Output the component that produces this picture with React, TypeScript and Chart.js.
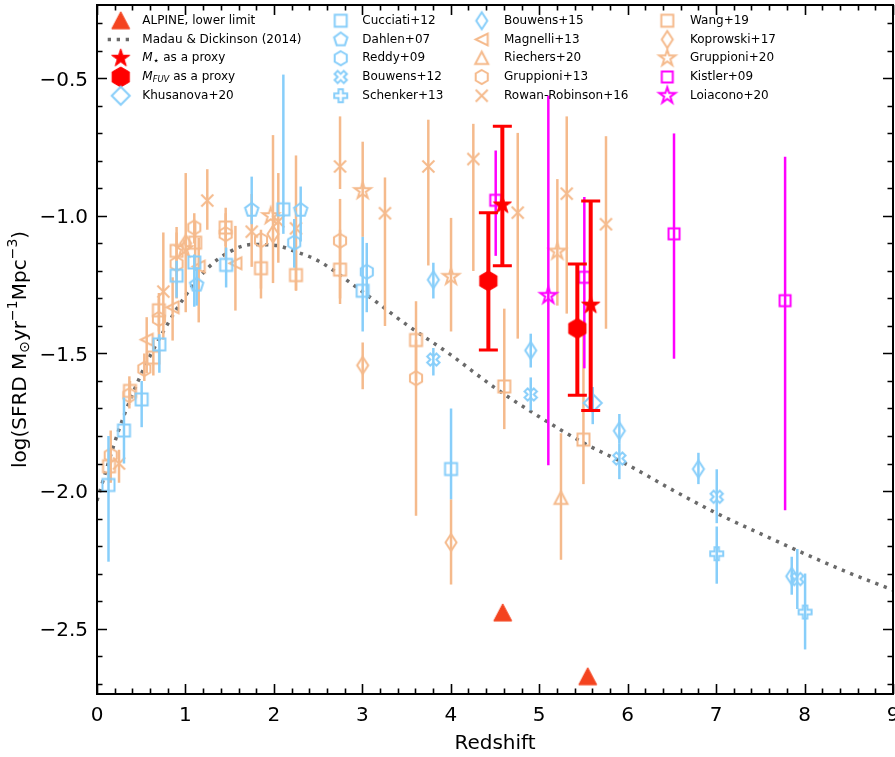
import React, { useEffect, useRef } from 'react';
import { Chart, registerables } from 'chart.js';

Chart.register(...registerables);

type Row = [number, number, number | null, number | null];

// ---------- DATA: [redshift, log SFRD, top of error bar, bottom of error bar] ----------
const alpineLowerLimit: Row[] = [[4.587, -2.443, null, null], [5.548, -2.675, null, null]];
const madauZ = [0, 0.25, 0.5, 0.75, 1, 1.25, 1.5, 1.75, 2, 2.25, 2.5, 3, 3.5, 4, 4.5, 5, 5.5, 6, 6.5, 7, 7.5, 8, 8.5, 9];
const madauLogSFRD = [-2.035, -1.775, -1.575, -1.42, -1.29, -1.19, -1.13, -1.104, -1.106, -1.13, -1.163, -1.275, -1.395, -1.505, -1.625, -1.73, -1.825, -1.905, -1.995, -2.08, -2.155, -2.228, -2.297, -2.36];
const mStarProxy: Row[] = [[4.583, -0.96, -0.674, -1.181], [5.582, -1.324, -0.946, -1.707]];
const mFuvProxy: Row[] = [[4.425, -1.236, -0.988, -1.487], [5.431, -1.409, -1.175, -1.652]];
const khusanova20: Row[] = [[5.605, -1.68, -1.622, -1.757]];
const cucciati12: Row[] = [
  [0.13, -1.978, -1.8, -2.257], [0.305, -1.78, -1.66, -1.9], [0.505, -1.667, -1.6, -1.768],
  [0.705, -1.467, -1.43, -1.57], [0.9, -1.217, -1.163, -1.297], [1.1, -1.169, -1.14, -1.33],
  [1.46, -1.178, -1.115, -1.26], [2.107, -0.976, -0.486, -1.065], [3.004, -1.272, -1.076, -1.42],
  [4.003, -1.92, -1.7, -2.03],
];
const dahlen07: Row[] = [[1.127, -1.25, -1.187, -1.326], [1.749, -0.978, -0.857, -1.03], [2.303, -0.978, -0.893, -1.093]];
const reddy09: Row[] = [[2.23, -1.097, -1.011, -1.188], [3.05, -1.203, -1.098, -1.35]];
const bouwens12: Row[] = [
  [3.803, -1.522, -1.48, -1.58], [4.904, -1.649, -1.587, -1.707], [5.906, -1.882, -1.826, -1.957],
  [7.007, -2.021, -1.921, -2.117], [7.918, -2.32, -2.211, -2.429],
];
const schenker13: Row[] = [[7.007, -2.228, -2.129, -2.337], [8.006, -2.44, -2.3, -2.576]];
const bouwens15: Row[] = [
  [3.803, -1.232, -1.17, -1.3], [4.904, -1.489, -1.428, -1.551], [5.906, -1.781, -1.72, -1.826],
  [6.8, -1.92, -1.861, -1.975], [7.855, -2.31, -2.239, -2.377],
];
const magnelli13: Row[] = [[0.562, -1.45, -1.368, -1.572], [0.855, -1.332, -1.223, -1.453], [1.15, -1.184, -1.079, -1.387], [1.565, -1.172, -1.036, -1.344]];
const riechers20: Row[] = [[5.246, -2.026, -1.79, -2.25]];
const gruppioni13: Row[] = [
  [0.155, -1.87, -1.78, -1.97], [0.366, -1.652, -1.583, -1.7], [0.535, -1.556, -1.5, -1.6],
  [0.7, -1.374, -1.3, -1.45], [0.9, -1.174, -1.06, -1.3], [1.1, -1.042, -0.99, -1.1],
  [1.455, -1.066, -0.99, -1.16], [1.854, -1.088, -1.05, -1.3], [2.748, -1.09, -0.938, -1.32],
  [3.607, -1.59, -1.45, -2.09],
];
const rowanRobinson16: Row[] = [
  [0.249, -1.9, -1.85, -1.97], [0.75, -1.275, -1.06, -1.45], [1.247, -0.944, -0.83, -1.05],
  [1.749, -1.057, -0.92, -1.185], [2.05, -1.02, -0.844, -1.17], [2.25, -1.045, -0.78, -1.27],
  [2.748, -0.82, -0.638, -0.902], [3.256, -0.99, -0.86, -1.4], [3.746, -0.82, -0.65, -1.18],
  [4.255, -0.793, -0.665, -1.2], [4.757, -0.988, -0.698, -1.446], [5.311, -0.919, -0.638, -1.355],
  [5.755, -1.03, -0.71, -1.41],
];
const wang19: Row[] = [
  [0.136, -1.91, -1.85, -1.97], [0.373, -1.636, -1.6, -1.68], [0.637, -1.515, -1.45, -1.58],
  [0.7, -1.343, -1.28, -1.42], [0.9, -1.127, -1.04, -1.22], [1.11, -1.097, -1.02, -1.2],
  [1.455, -1.042, -0.97, -1.11], [1.854, -1.19, -1.09, -1.264], [2.25, -1.215, -1.127, -1.272],
  [2.748, -1.195, -1.05, -1.3], [3.607, -1.451, -1.31, -1.6], [4.605, -1.62, -1.337, -1.775],
  [5.5, -1.813, -1.417, -1.975],
];
const koprowski17: Row[] = [[1.003, -1.1, -0.844, -1.35], [1.99, -1.066, -0.706, -1.244], [3.004, -1.543, -1.46, -1.63], [4.003, -2.187, -2.03, -2.34]];
const gruppioni20: Row[] = [[0.985, -1.12, null, null], [1.964, -1.0, null, null], [3.004, -0.909, -0.73, -1.076], [4.003, -1.221, -1.007, -1.42], [5.205, -1.129, -0.866, -1.326]];
const kistler09: Row[] = [[4.508, -0.943, -0.762, -1.145], [5.51, -1.223, -0.931, -1.554], [6.524, -1.065, -0.7, -1.519], [7.78, -1.308, -0.785, -2.07]];
const loiacono20: Row[] = [[5.103, -1.29, -0.562, -1.906]];

const xTickValues = [0, 1, 2, 3, 4, 5, 6, 7, 8, 9];
const yTickValues = [-2.5, -2.0, -1.5, -1.0, -0.5];
const X_MIN = 0, X_MAX = 9, Y_MIN = -2.738, Y_MAX = -0.233;

// ---------- STYLES ----------
const BLUE = '#87CEFA';
const ORANGE = '#F5BA8C';
const MAGENTA = '#FF00FF';
const RED = '#FF0000';
const ALPINE_RED = '#F4431F';
const FONT = "'DejaVu Sans', sans-serif";

interface SeriesDef {
  key: string; label: string; rows: Row[]; shape: string; size: number; color: string;
  filled: boolean; lw: number; errW: number; cap: number; order: number;
}

const seriesDefs: SeriesDef[] = [
  { key: 'alpine', label: 'ALPINE, lower limit', rows: alpineLowerLimit, shape: '^', size: 18, color: ALPINE_RED, filled: true, lw: 1, errW: 0, cap: 0, order: 0 },
  { key: 'mstar', label: 'M* as a proxy', rows: mStarProxy, shape: '*', size: 19, color: RED, filled: true, lw: 1, errW: 4, cap: 19, order: 0 },
  { key: 'mfuv', label: 'MFUV as a proxy', rows: mFuvProxy, shape: 'h', size: 20, color: RED, filled: true, lw: 1, errW: 4, cap: 19, order: 0 },
  { key: 'khus', label: 'Khusanova+20', rows: khusanova20, shape: 'D', size: 18, color: BLUE, filled: false, lw: 2, errW: 2.5, cap: 0, order: 2 },
  { key: 'cucciati', label: 'Cucciati+12', rows: cucciati12, shape: 's', size: 12, color: BLUE, filled: false, lw: 2, errW: 2.5, cap: 0, order: 2 },
  { key: 'dahlen', label: 'Dahlen+07', rows: dahlen07, shape: 'p', size: 14, color: BLUE, filled: false, lw: 2, errW: 2.5, cap: 0, order: 2 },
  { key: 'reddy', label: 'Reddy+09', rows: reddy09, shape: 'h', size: 14, color: BLUE, filled: false, lw: 2, errW: 2.5, cap: 0, order: 2 },
  { key: 'bouwens12', label: 'Bouwens+12', rows: bouwens12, shape: 'X', size: 13, color: BLUE, filled: false, lw: 2, errW: 2.5, cap: 0, order: 2 },
  { key: 'schenker', label: 'Schenker+13', rows: schenker13, shape: 'P', size: 13, color: BLUE, filled: false, lw: 2, errW: 2.5, cap: 0, order: 2 },
  { key: 'bouwens15', label: 'Bouwens+15', rows: bouwens15, shape: 'd', size: 17, color: BLUE, filled: false, lw: 2, errW: 2.5, cap: 0, order: 2 },
  { key: 'magnelli', label: 'Magnelli+13', rows: magnelli13, shape: '<', size: 12, color: ORANGE, filled: false, lw: 2, errW: 2.5, cap: 0, order: 3 },
  { key: 'riechers', label: 'Riechers+20', rows: riechers20, shape: '^', size: 13, color: ORANGE, filled: false, lw: 2, errW: 2.5, cap: 0, order: 3 },
  { key: 'gruppioni13', label: 'Gruppioni+13', rows: gruppioni13, shape: 'h', size: 14, color: ORANGE, filled: false, lw: 2, errW: 2.5, cap: 0, order: 3 },
  { key: 'rowan', label: 'Rowan-Robinson+16', rows: rowanRobinson16, shape: 'x', size: 12, color: ORANGE, filled: false, lw: 2, errW: 2.5, cap: 0, order: 3 },
  { key: 'wang', label: 'Wang+19', rows: wang19, shape: 's', size: 12, color: ORANGE, filled: false, lw: 2, errW: 2.5, cap: 0, order: 3 },
  { key: 'koprowski', label: 'Koprowski+17', rows: koprowski17, shape: 'd', size: 17, color: ORANGE, filled: false, lw: 2, errW: 2.5, cap: 0, order: 3 },
  { key: 'gruppioni20', label: 'Gruppioni+20', rows: gruppioni20, shape: '*', size: 17, color: ORANGE, filled: false, lw: 2, errW: 2.5, cap: 0, order: 3 },
  { key: 'kistler', label: 'Kistler+09', rows: kistler09, shape: 's', size: 11, color: MAGENTA, filled: false, lw: 2, errW: 2.5, cap: 0, order: 1 },
  { key: 'loiacono', label: 'Loiacono+20', rows: loiacono20, shape: '*', size: 17, color: MAGENTA, filled: false, lw: 2, errW: 2.5, cap: 0, order: 1 },
];

const legendColumns = [
  ['alpine', 'madau', 'mstar', 'mfuv', 'khus'],
  ['cucciati', 'dahlen', 'reddy', 'bouwens12', 'schenker'],
  ['bouwens15', 'magnelli', 'riechers', 'gruppioni13', 'rowan'],
  ['wang', 'koprowski', 'gruppioni20', 'kistler', 'loiacono'],
];
const legendMarkerX = [120.7, 340.7, 481.7, 667.3];
const legendTextX = [142.3, 362.3, 504, 690];
const legendRowY0 = 20.7, legendRowDY = 18.75;

// ---------- MARKERS ----------
function poly(ctx: CanvasRenderingContext2D, n: number, r: number, startDeg: number) {
  for (let i = 0; i < n; i++) {
    const a = ((startDeg + (i * 360) / n) * Math.PI) / 180;
    if (i === 0) ctx.moveTo(r * Math.cos(a), r * Math.sin(a));
    else ctx.lineTo(r * Math.cos(a), r * Math.sin(a));
  }
  ctx.closePath();
}
const plusPts: [number, number][] = [
  [-1 / 6, -1 / 2], [1 / 6, -1 / 2], [1 / 6, -1 / 6], [1 / 2, -1 / 6], [1 / 2, 1 / 6], [1 / 6, 1 / 6],
  [1 / 6, 1 / 2], [-1 / 6, 1 / 2], [-1 / 6, 1 / 6], [-1 / 2, 1 / 6], [-1 / 2, -1 / 6], [-1 / 6, -1 / 6],
];
function tracePath(ctx: CanvasRenderingContext2D, shape: string, s: number) {
  const r = s / 2;
  ctx.beginPath();
  switch (shape) {
    case 's': ctx.rect(-r, -r, s, s); break;
    case 'p': poly(ctx, 5, r, -90); break;
    case 'h': poly(ctx, 6, r, -90); break;
    case 'D': ctx.moveTo(0, -r); ctx.lineTo(r, 0); ctx.lineTo(0, r); ctx.lineTo(-r, 0); ctx.closePath(); break;
    case 'd': ctx.moveTo(0, -r); ctx.lineTo(0.65 * r, 0); ctx.lineTo(0, r); ctx.lineTo(-0.65 * r, 0); ctx.closePath(); break;
    case '<': ctx.moveTo(-r, 0); ctx.lineTo(r, -r); ctx.lineTo(r, r); ctx.closePath(); break;
    case '^': ctx.moveTo(0, -r); ctx.lineTo(-r, r * 0.9); ctx.lineTo(r, r * 0.9); ctx.closePath(); break;
    case 'x': ctx.moveTo(-r, -r); ctx.lineTo(r, r); ctx.moveTo(-r, r); ctx.lineTo(r, -r); break;
    case '*':
      for (let i = 0; i < 10; i++) {
        const rr = i % 2 ? r * 0.382 : r;
        const a = ((-90 + i * 36) * Math.PI) / 180;
        if (i === 0) ctx.moveTo(rr * Math.cos(a), rr * Math.sin(a));
        else ctx.lineTo(rr * Math.cos(a), rr * Math.sin(a));
      }
      ctx.closePath();
      break;
    case 'P':
    case 'X': {
      const rot = shape === 'X' ? Math.PI / 4 : 0;
      const k = s;
      plusPts.forEach(([px, py], i) => {
        const x = (px * Math.cos(rot) - py * Math.sin(rot)) * k;
        const y = (px * Math.sin(rot) + py * Math.cos(rot)) * k;
        if (i === 0) ctx.moveTo(x, y); else ctx.lineTo(x, y);
      });
      ctx.closePath();
      break;
    }
  }
}
function makeMarker(d: SeriesDef): HTMLCanvasElement {
  const dim = Math.ceil(d.size * 1.4 + d.lw * 2 + 4);
  const c = document.createElement('canvas');
  c.width = dim; c.height = dim;
  const ctx = c.getContext('2d')!;
  ctx.translate(dim / 2, dim / 2);
  tracePath(ctx, d.shape, d.size);
  if (d.filled) { ctx.fillStyle = d.color; ctx.fill(); }
  ctx.strokeStyle = d.color;
  ctx.lineWidth = d.lw;
  ctx.lineJoin = 'miter';
  ctx.stroke();
  return c;
}

// ---------- PLUGINS ----------
const errorBarPlugin = {
  id: 'errorBars',
  beforeDatasetDraw(chart: any, args: any) {
    const ds = chart.data.datasets[args.index];
    if (!ds.errRows || !ds.errW) return;
    const { ctx, chartArea } = chart;
    const xs = chart.scales.x, ys = chart.scales.y;
    ctx.save();
    ctx.beginPath();
    ctx.rect(chartArea.left, chartArea.top, chartArea.right - chartArea.left, chartArea.bottom - chartArea.top);
    ctx.clip();
    ctx.strokeStyle = ds.errColor;
    ctx.lineCap = 'butt';
    (ds.errRows as Row[]).forEach((r) => {
      if (r[2] === null || r[3] === null) return;
      const px = xs.getPixelForValue(r[0]);
      const top = ys.getPixelForValue(r[2]);
      const bot = ys.getPixelForValue(r[3]);
      ctx.lineWidth = ds.errW;
      ctx.beginPath();
      ctx.moveTo(px, top); ctx.lineTo(px, bot);
      ctx.stroke();
      if (ds.cap) {
        ctx.lineWidth = 3;
        ctx.beginPath();
        ctx.moveTo(px - ds.cap / 2, top); ctx.lineTo(px + ds.cap / 2, top);
        ctx.moveTo(px - ds.cap / 2, bot); ctx.lineTo(px + ds.cap / 2, bot);
        ctx.stroke();
      }
    });
    ctx.restore();
  },
};

type Part = { t: string; italic?: boolean; sub?: boolean; sup?: boolean; scale?: number };
function partSize(p: Part, base: number) {
  return p.scale ? base * p.scale : p.sub || p.sup ? base * 0.7 : base;
}
function drawRich(ctx: CanvasRenderingContext2D, parts: Part[], x: number, y: number, base: number) {
  let cx = x;
  parts.forEach((p) => {
    ctx.font = `${p.italic ? 'italic ' : ''}${partSize(p, base)}px ${FONT}`;
    const dy = p.sub ? base * 0.22 : p.sup ? -base * 0.38 : 0;
    ctx.fillText(p.t, cx, y + dy);
    cx += ctx.measureText(p.t).width;
  });
  return cx - x;
}
function richWidth(ctx: CanvasRenderingContext2D, parts: Part[], base: number) {
  let w = 0;
  parts.forEach((p) => {
    ctx.font = `${p.italic ? 'italic ' : ''}${partSize(p, base)}px ${FONT}`;
    w += ctx.measureText(p.t).width;
  });
  return w;
}

const yTitleParts: Part[] = [
  { t: 'log(SFRD M' }, { t: '⊙', sub: true }, { t: 'yr' }, { t: '−1', sup: true },
  { t: 'Mpc' }, { t: '−3', sup: true }, { t: ')' },
];
const legendRichLabels: Record<string, Part[]> = {
  mstar: [{ t: 'M', italic: true }, { t: '⋆', sub: true, scale: 0.9 }, { t: ' as a proxy' }],
  mfuv: [{ t: 'M', italic: true }, { t: 'FUV', italic: true, sub: true }, { t: ' as a proxy' }],
};

const fmtY = (v: number) => (v < 0 ? '−' : '') + Math.abs(v).toFixed(1);

function makeFramePlugin(markers: Record<string, HTMLCanvasElement>) {
  return {
    id: 'frameLegend',
    afterDraw(chart: any) {
      const { ctx, chartArea: a } = chart;
      const xs = chart.scales.x, ys = chart.scales.y;
      ctx.save();
      ctx.strokeStyle = '#000';
      // ticks (inward, all four sides)
      ctx.lineWidth = 1.6;
      ctx.beginPath();
      for (let i = 0; i <= (X_MAX - X_MIN) * 5; i++) {
        const v = X_MIN + i * 0.2;
        const major = i % 5 === 0;
        const len = major ? 10 : 5.5;
        const px = Math.round(xs.getPixelForValue(v)) + 0.5;
        ctx.moveTo(px, a.bottom); ctx.lineTo(px, a.bottom - len);
        ctx.moveTo(px, a.top); ctx.lineTo(px, a.top + len);
      }
      for (let i = -28; i <= -2; i++) {
        const v = i / 10;
        if (v < Y_MIN || v > Y_MAX) continue;
        const major = i % 5 === 0;
        const len = major ? 10 : 5.5;
        const py = Math.round(ys.getPixelForValue(v)) + 0.5;
        ctx.moveTo(a.left, py); ctx.lineTo(a.left + len, py);
        ctx.moveTo(a.right, py); ctx.lineTo(a.right - len, py);
      }
      ctx.stroke();
      ctx.lineWidth = 2;
      ctx.strokeRect(a.left, a.top, a.right - a.left, a.bottom - a.top);

      // tick labels
      ctx.fillStyle = '#000';
      ctx.font = `20px ${FONT}`;
      ctx.textBaseline = 'alphabetic';
      ctx.textAlign = 'center';
      xTickValues.forEach((v) => {
        ctx.fillText(String(v), xs.getPixelForValue(v), a.bottom + 26.5);
      });
      ctx.textAlign = 'right';
      yTickValues.forEach((v) => {
        ctx.fillText(fmtY(v), a.left - 9, ys.getPixelForValue(v) + 7.3);
      });
      // x title
      ctx.textAlign = 'center';
      ctx.fillText('Redshift', (a.left + a.right) / 2, 748.5);

      // y-axis title
      ctx.textAlign = 'left';
      ctx.textBaseline = 'middle';
      const tw = richWidth(ctx, yTitleParts, 20);
      ctx.save();
      ctx.translate(21, (a.top + a.bottom) / 2);
      ctx.rotate(-Math.PI / 2);
      drawRich(ctx, yTitleParts, -tw / 2, 0, 20);
      ctx.restore();

      // legend
      legendColumns.forEach((col, ci) => {
        col.forEach((key, ri) => {
          const y = legendRowY0 + ri * legendRowDY;
          const mx = legendMarkerX[ci];
          let label = '';
          if (key === 'madau') {
            ctx.save();
            ctx.strokeStyle = '#6a6a6a';
            ctx.lineWidth = 3.5;
            ctx.setLineDash([3.3, 5.7]);
            ctx.beginPath();
            ctx.moveTo(mx - 13, y); ctx.lineTo(mx + 13, y);
            ctx.stroke();
            ctx.restore();
            label = 'Madau & Dickinson (2014)';
          } else {
            const img = markers[key];
            ctx.drawImage(img, mx - img.width / 2, y - img.height / 2);
            label = seriesDefs.find((s) => s.key === key)!.label;
          }
          ctx.fillStyle = '#000';
          ctx.textBaseline = 'middle';
          ctx.textAlign = 'left';
          if (legendRichLabels[key]) {
            drawRich(ctx, legendRichLabels[key], legendTextX[ci], y, 12);
          } else {
            ctx.font = `12px ${FONT}`;
            ctx.fillText(label, legendTextX[ci], y);
          }
        });
      });
      ctx.restore();
    },
  };
}

export default function App() {
  const canvasRef = useRef<HTMLCanvasElement | null>(null);
  useEffect(() => {
    if (!canvasRef.current) return;
    Chart.defaults.font.family = FONT;
    Chart.defaults.color = '#000';
    const markers: Record<string, HTMLCanvasElement> = {};
    seriesDefs.forEach((d) => { markers[d.key] = makeMarker(d); });

    const datasets: any[] = seriesDefs.map((d) => ({
      label: d.label,
      data: d.rows.map((r) => ({ x: r[0], y: r[1] })),
      pointStyle: markers[d.key],
      pointRadius: d.size / 2,
      pointHoverRadius: d.size / 2,
      showLine: false,
      order: d.order,
      errRows: d.rows,
      errW: d.errW,
      errColor: d.color,
      cap: d.cap,
    }));
    datasets.push({
      label: 'Madau & Dickinson (2014)',
      data: madauZ.map((z, i) => ({ x: z, y: madauLogSFRD[i] })),
      showLine: true,
      pointRadius: 0,
      borderColor: '#6a6a6a',
      borderWidth: 3.5,
      borderDash: [3.3, 5.7],
      borderCapStyle: 'butt',
      cubicInterpolationMode: 'monotone',
      fill: false,
      order: 5,
    });

    const chart = new Chart(canvasRef.current, {
      type: 'scatter',
      data: { datasets },
      options: {
        animation: false,
        responsive: false,
        devicePixelRatio: 1,
        events: [],
        layout: { autoPadding: false, padding: { left: 0, right: 2, top: 5, bottom: 0 } },
        plugins: { legend: { display: false }, tooltip: { enabled: false } },
        scales: {
          x: {
            type: 'linear', min: X_MIN, max: X_MAX,
            grid: { display: false, drawTicks: false },
            border: { display: false },
            ticks: { display: false },
            title: { display: false },
            afterBuildTicks: (s: any) => { s.ticks = xTickValues.map((v) => ({ value: v })); },
            afterFit: (s: any) => { s.height = 63; },
          },
          y: {
            type: 'linear', min: Y_MIN, max: Y_MAX,
            grid: { display: false, drawTicks: false },
            border: { display: false },
            ticks: { display: false },
            title: { display: false },
            afterBuildTicks: (s: any) => { s.ticks = yTickValues.map((v) => ({ value: v })); },
            afterFit: (s: any) => { s.width = 97; },
          },
        },
      } as any,
      plugins: [errorBarPlugin, makeFramePlugin(markers)],
    });
    return () => chart.destroy();
  }, []);

  return (
    <div style={{ position: 'absolute', left: 0, top: 0, width: 895, height: 757, background: '#fff' }}>
      <canvas ref={canvasRef} width={895} height={757} style={{ display: 'block' }} />
    </div>
  );
}
